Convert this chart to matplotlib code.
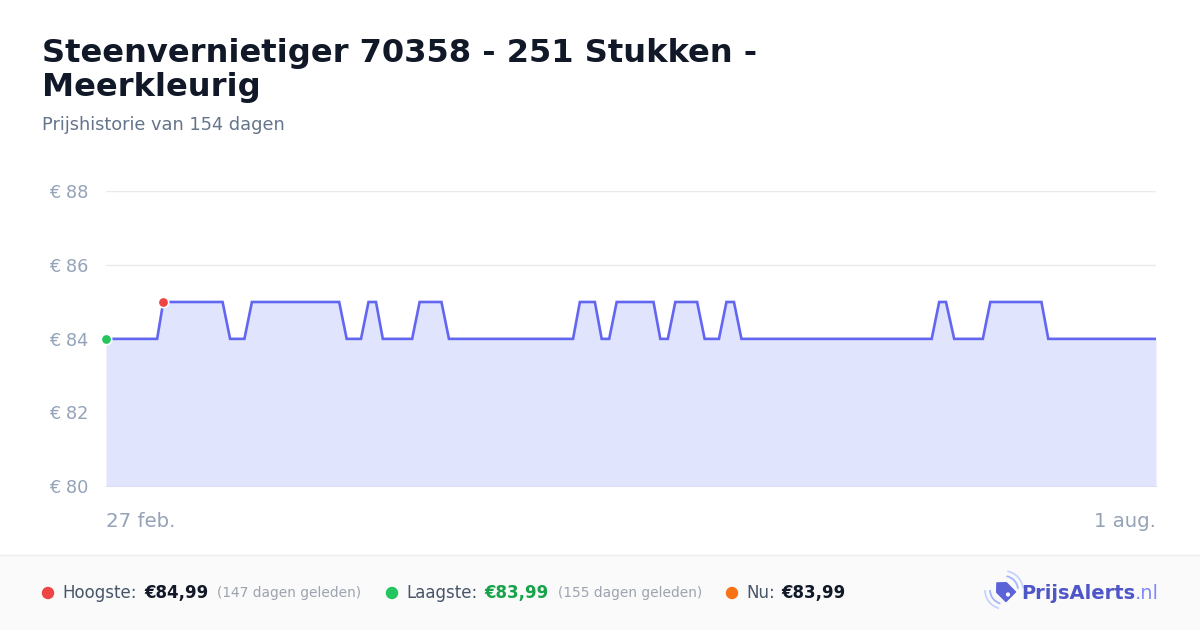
import numpy as np
import matplotlib
matplotlib.use("Agg")
import matplotlib.pyplot as plt
from matplotlib.patches import Rectangle, Polygon, Arc, Circle

plt.rcParams['font.family'] = ['DejaVu Sans']

# price history: day offset since 27 feb, price in euro
days = [0, 7.5, 8.4, 17.1, 18.2, 20.3, 21.4, 34.2, 35.3, 37.4, 38.5, 39.6, 40.6,
        44.9, 46.0, 49.2, 50.3, 68.5, 69.5, 71.7, 72.7, 73.8, 74.9, 80.3, 81.3,
        82.4, 83.5, 86.7, 87.8, 89.9, 91.0, 92.1, 93.2, 121.1, 122.2, 123.2,
        124.4, 128.6, 129.7, 137.2, 138.2, 154]
prices = [83.99, 83.99, 84.99, 84.99, 83.99, 83.99, 84.99, 84.99, 83.99, 83.99,
          84.99, 84.99, 83.99, 83.99, 84.99, 84.99, 83.99, 83.99, 84.99, 84.99,
          83.99, 83.99, 84.99, 84.99, 83.99, 83.99, 84.99, 84.99, 83.99, 83.99,
          84.99, 84.99, 83.99, 83.99, 84.99, 84.99, 83.99, 83.99, 84.99, 84.99,
          83.99, 83.99]
yticks = [80, 82, 84, 86, 88]
xlabels = ["27 feb.", "1 aug."]

title = "Steenvernietiger 70358 - 251 Stukken -\nMeerkleurig"
subtitle = "Prijshistorie van 154 dagen"

W, H = 1200, 630
fig = plt.figure(figsize=(W / 100, H / 100), dpi=100)
fig.patch.set_facecolor("white")

# background / overlay axis in pixel coords
bg = fig.add_axes([0, 0, 1, 1])
bg.set_xlim(0, W)
bg.set_ylim(H, 0)
bg.axis("off")
bg.add_patch(Rectangle((0, 555), W, 75, facecolor="#fafafa", edgecolor="none"))
bg.plot([0, W], [555, 555], color="#eceef1", lw=1)

# va=baseline on multi-line text anchors the last line
bg.text(42, 96, title, fontsize=23.1, fontweight="bold", color="#111827",
        va="baseline", ha="left", linespacing=1.12)
bg.text(42, 130, subtitle, fontsize=12.8, color="#64748b", va="baseline")

# chart
x0, x1, y0, y1 = 106, 1156, 191, 486
ax = fig.add_axes([x0 / W, 1 - y1 / H, (x1 - x0) / W, (y1 - y0) / H])
ax.set_xlim(days[0], days[-1])
ax.set_ylim(80, 88)
ax.fill_between(days, prices, 80, color="#e0e4fd", lw=0)
ax.plot(days, prices, color="#6366f1", lw=1.9, solid_joinstyle="miter")
imax = prices.index(max(prices))
ax.plot(days[0], prices[0], "o", ms=7.5, color="#22c55e", mec="white", mew=1.2,
        clip_on=False, zorder=5)
ax.plot(days[imax], prices[imax], "o", ms=7.5, color="#ef4444", mec="white",
        mew=1.2, clip_on=False, zorder=5)
ax.set_yticks(yticks)
ax.set_yticklabels([f"€ {t}" for t in yticks])
ax.grid(axis="y", color="#e8eaee", lw=1)
ax.set_axisbelow(True)
ax.tick_params(axis="y", length=0, pad=13, labelsize=12.8, labelcolor="#94a3b8")
ax.set_xticks([])
for s in ["top", "right", "left"]:
    ax.spines[s].set_visible(False)
ax.spines["bottom"].set_color("#dcdff5")
ax.set_facecolor("none")

bg.text(x0, 527, xlabels[0], fontsize=14.2, color="#94a3b8", ha="left", va="baseline")
bg.text(x1, 527, xlabels[1], fontsize=14.2, color="#94a3b8", ha="right", va="baseline")

# footer stats
fy = 598
bg.add_patch(Circle((48, 593), 5.5, color="#ef4444"))
bg.text(62, fy, "Hoogste:", fontsize=12, color="#475569", va="baseline")
bg.text(144, fy, "€84,99", fontsize=12, fontweight="bold", color="#111827", va="baseline")
bg.text(217, fy - 1, "(147 dagen geleden)", fontsize=9.9, color="#9ca3af", va="baseline")

bg.add_patch(Circle((392, 593), 5.5, color="#22c55e"))
bg.text(406, fy, "Laagste:", fontsize=12, color="#475569", va="baseline")
bg.text(484, fy, "€83,99", fontsize=12, fontweight="bold", color="#16a34a", va="baseline")
bg.text(558, fy - 1, "(155 dagen geleden)", fontsize=9.9, color="#9ca3af", va="baseline")

bg.add_patch(Circle((732, 593), 5.5, color="#f97316"))
bg.text(746, fy, "Nu:", fontsize=12, color="#475569", va="baseline")
bg.text(781, fy, "€83,99", fontsize=12, fontweight="bold", color="#111827", va="baseline")

# logo: price tag pointing up-left with signal arcs
cx, cy, sc = 1004, 590, 10
tag = np.array([(-1, 0), (-0.35, 0.68), (0.95, 0.68), (0.95, -0.68), (-0.35, -0.68)])
a = np.radians(45)
rot = np.array([[np.cos(a), -np.sin(a)], [np.sin(a), np.cos(a)]])
pts = tag @ rot.T * sc + [cx, cy]
bg.add_patch(Polygon(pts, closed=True, facecolor="#5b63d6", edgecolor="#5b63d6",
                     lw=1, joinstyle="round"))
bg.add_patch(Circle((cx + 4, cy + 4.5), 1.4, color="white"))
for r, c in [(14, "#a5b4fc"), (19, "#c7d2fe")]:
    bg.add_patch(Arc((cx, cy), 2 * r, 2 * r, theta1=105, theta2=180, color=c, lw=1.3))
    bg.add_patch(Arc((cx, cy), 2 * r, 2 * r, theta1=-80, theta2=-5, color=c, lw=1.3))
t = bg.text(1021, 599, "PrijsAlerts", fontsize=14.0, fontweight="bold",
            color="#4f56c8", va="baseline")
fig.canvas.draw()
bb = t.get_window_extent()
bg.text(bb.x1, 599, ".nl", fontsize=14.0, color="#818cf8", va="baseline")

fig.savefig("out.png", dpi=100)
